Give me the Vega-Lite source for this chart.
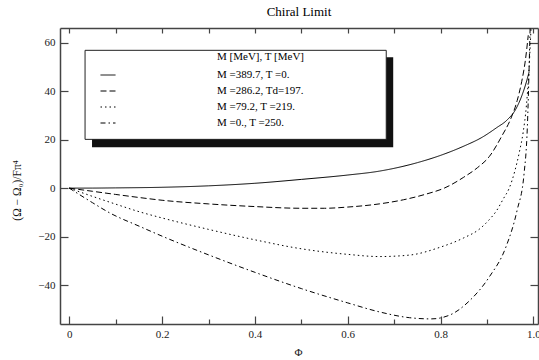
{
  "$schema": "https://vega.github.io/schema/vega-lite/v6.json",
  "autosize": "none",
  "padding": {"left": 60, "top": 28, "right": 1, "bottom": 36},
  "width": 478,
  "height": 296,
  "title": {"text": "Chiral Limit", "fontSize": 13, "font": "Liberation Serif", "fontWeight": "normal", "offset": 8, "color": "#000"},
  "config": {
    "font": "Liberation Serif",
    "view": {"stroke": null},
    "axis": {"grid": false, "labelFont": "Liberation Serif", "titleFont": "Liberation Serif", "labelColor": "#222", "titleColor": "#222", "domainColor": "#444", "domainWidth": 1.5, "tickColor": "#444", "tickWidth": 1.2, "labelFontSize": 11, "titleFontSize": 11, "titleFontWeight": "normal"}
  },
  "datasets": {
    "curves": [
      {"phi": 0, "v": 0, "s": "M =389.7, T =0."},
      {"phi": 0.05, "v": 0.02, "s": "M =389.7, T =0."},
      {"phi": 0.1, "v": 0.1, "s": "M =389.7, T =0."},
      {"phi": 0.2, "v": 0.35, "s": "M =389.7, T =0."},
      {"phi": 0.3, "v": 0.95, "s": "M =389.7, T =0."},
      {"phi": 0.4, "v": 2.0, "s": "M =389.7, T =0."},
      {"phi": 0.5, "v": 3.6, "s": "M =389.7, T =0."},
      {"phi": 0.6, "v": 5.4, "s": "M =389.7, T =0."},
      {"phi": 0.668, "v": 7.0, "s": "M =389.7, T =0."},
      {"phi": 0.75, "v": 10.5, "s": "M =389.7, T =0."},
      {"phi": 0.8, "v": 13.5, "s": "M =389.7, T =0."},
      {"phi": 0.85, "v": 17.3, "s": "M =389.7, T =0."},
      {"phi": 0.89, "v": 21.0, "s": "M =389.7, T =0."},
      {"phi": 0.92, "v": 24.8, "s": "M =389.7, T =0."},
      {"phi": 0.944, "v": 28.2, "s": "M =389.7, T =0."},
      {"phi": 0.962, "v": 32.5, "s": "M =389.7, T =0."},
      {"phi": 0.975, "v": 38.0, "s": "M =389.7, T =0."},
      {"phi": 0.983, "v": 42.5, "s": "M =389.7, T =0."},
      {"phi": 0.991, "v": 48.0, "s": "M =389.7, T =0."},

      {"phi": 0, "v": 0, "s": "M =286.2, Td=197."},
      {"phi": 0.05, "v": -1.3, "s": "M =286.2, Td=197."},
      {"phi": 0.1, "v": -2.6, "s": "M =286.2, Td=197."},
      {"phi": 0.152, "v": -3.9, "s": "M =286.2, Td=197."},
      {"phi": 0.2, "v": -5.0, "s": "M =286.2, Td=197."},
      {"phi": 0.3, "v": -6.5, "s": "M =286.2, Td=197."},
      {"phi": 0.4, "v": -7.6, "s": "M =286.2, Td=197."},
      {"phi": 0.5, "v": -8.3, "s": "M =286.2, Td=197."},
      {"phi": 0.55, "v": -8.3, "s": "M =286.2, Td=197."},
      {"phi": 0.6, "v": -7.8, "s": "M =286.2, Td=197."},
      {"phi": 0.668, "v": -6.5, "s": "M =286.2, Td=197."},
      {"phi": 0.72, "v": -4.8, "s": "M =286.2, Td=197."},
      {"phi": 0.77, "v": -2.4, "s": "M =286.2, Td=197."},
      {"phi": 0.808, "v": 0, "s": "M =286.2, Td=197."},
      {"phi": 0.85, "v": 4.5, "s": "M =286.2, Td=197."},
      {"phi": 0.88, "v": 8.5, "s": "M =286.2, Td=197."},
      {"phi": 0.905, "v": 13.0, "s": "M =286.2, Td=197."},
      {"phi": 0.933, "v": 21.8, "s": "M =286.2, Td=197."},
      {"phi": 0.95, "v": 28.0, "s": "M =286.2, Td=197."},
      {"phi": 0.965, "v": 36.0, "s": "M =286.2, Td=197."},
      {"phi": 0.975, "v": 44.0, "s": "M =286.2, Td=197."},
      {"phi": 0.983, "v": 53.0, "s": "M =286.2, Td=197."},
      {"phi": 0.989, "v": 63.0, "s": "M =286.2, Td=197."},

      {"phi": 0, "v": 0, "s": "M =79.2,  T =219."},
      {"phi": 0.05, "v": -3.4, "s": "M =79.2,  T =219."},
      {"phi": 0.1, "v": -6.6, "s": "M =79.2,  T =219."},
      {"phi": 0.152, "v": -9.8, "s": "M =79.2,  T =219."},
      {"phi": 0.2, "v": -12.3, "s": "M =79.2,  T =219."},
      {"phi": 0.3, "v": -17.0, "s": "M =79.2,  T =219."},
      {"phi": 0.4, "v": -21.3, "s": "M =79.2,  T =219."},
      {"phi": 0.5, "v": -25.0, "s": "M =79.2,  T =219."},
      {"phi": 0.6, "v": -27.3, "s": "M =79.2,  T =219."},
      {"phi": 0.668, "v": -28.2, "s": "M =79.2,  T =219."},
      {"phi": 0.733, "v": -27.6, "s": "M =79.2,  T =219."},
      {"phi": 0.797, "v": -24.5, "s": "M =79.2,  T =219."},
      {"phi": 0.85, "v": -20.5, "s": "M =79.2,  T =219."},
      {"phi": 0.883, "v": -17.0, "s": "M =79.2,  T =219."},
      {"phi": 0.905, "v": -13.0, "s": "M =79.2,  T =219."},
      {"phi": 0.92, "v": -9.5, "s": "M =79.2,  T =219."},
      {"phi": 0.935, "v": -4.5, "s": "M =79.2,  T =219."},
      {"phi": 0.948, "v": 0, "s": "M =79.2,  T =219."},
      {"phi": 0.96, "v": 7.0, "s": "M =79.2,  T =219."},
      {"phi": 0.97, "v": 15.0, "s": "M =79.2,  T =219."},
      {"phi": 0.978, "v": 23.0, "s": "M =79.2,  T =219."},
      {"phi": 0.985, "v": 34.0, "s": "M =79.2,  T =219."},
      {"phi": 0.99, "v": 47.0, "s": "M =79.2,  T =219."},
      {"phi": 0.995, "v": 66.0, "s": "M =79.2,  T =219."},

      {"phi": 0, "v": 0, "s": "M =0.,  T =250."},
      {"phi": 0.05, "v": -6.0, "s": "M =0.,  T =250."},
      {"phi": 0.088, "v": -10.3, "s": "M =0.,  T =250."},
      {"phi": 0.152, "v": -15.8, "s": "M =0.,  T =250."},
      {"phi": 0.2, "v": -19.8, "s": "M =0.,  T =250."},
      {"phi": 0.3, "v": -27.5, "s": "M =0.,  T =250."},
      {"phi": 0.4, "v": -34.7, "s": "M =0.,  T =250."},
      {"phi": 0.5, "v": -41.4, "s": "M =0.,  T =250."},
      {"phi": 0.6, "v": -47.3, "s": "M =0.,  T =250."},
      {"phi": 0.668, "v": -51.0, "s": "M =0.,  T =250."},
      {"phi": 0.733, "v": -53.4, "s": "M =0.,  T =250."},
      {"phi": 0.78, "v": -53.9, "s": "M =0.,  T =250."},
      {"phi": 0.82, "v": -52.3, "s": "M =0.,  T =250."},
      {"phi": 0.862, "v": -46.5, "s": "M =0.,  T =250."},
      {"phi": 0.905, "v": -36.6, "s": "M =0.,  T =250."},
      {"phi": 0.941, "v": -24.2, "s": "M =0.,  T =250."},
      {"phi": 0.965, "v": -9.1, "s": "M =0.,  T =250."},
      {"phi": 0.98, "v": 6.0, "s": "M =0.,  T =250."},
      {"phi": 0.987, "v": 25.0, "s": "M =0.,  T =250."},
      {"phi": 0.993, "v": 66.0, "s": "M =0.,  T =250."}
    ],
    "box": [
      {"kind": "shadow", "x1": 0.049, "x2": 0.698, "y1": 53.9, "y2": 16.8},
      {"kind": "box", "x1": 0.034, "x2": 0.683, "y1": 56.8, "y2": 20.1}
    ]
  },
  "layer": [
    {
      "data": {"name": "box"},
      "transform": [{"filter": "datum.kind === 'shadow'"}],
      "mark": {"type": "rect", "fill": "#111", "stroke": null},
      "encoding": {
        "x": {"field": "x1", "type": "quantitative", "scale": {"domain": [-0.02, 1.01], "nice": false, "zero": false},
              "axis": {"orient": "bottom", "values": [0.1, 0.3, 0.5, 0.7, 0.9], "tickSize": -5, "labels": false, "domain": false, "title": null}},
        "x2": {"field": "x2"},
        "y": {"field": "y1", "type": "quantitative", "scale": {"domain": [-56, 66], "nice": false, "zero": false}, "axis": null},
        "y2": {"field": "y2"}
      }
    },
    {
      "data": {"name": "box"},
      "transform": [{"filter": "datum.kind === 'box'"}],
      "mark": {"type": "rect", "fill": "white", "stroke": "#222", "strokeWidth": 1},
      "encoding": {
        "x": {"field": "x1", "type": "quantitative", "axis": null},
        "x2": {"field": "x2"},
        "y": {"field": "y1", "type": "quantitative", "axis": null},
        "y2": {"field": "y2"}
      }
    },
    {
      "mark": {"type": "rule", "color": "#333", "strokeWidth": 1.2},
      "encoding": {
        "x": {"datum": -0.02, "type": "quantitative",
              "axis": {"orient": "top", "values": [0, 0.1, 0.2, 0.3, 0.4, 0.5, 0.6, 0.7, 0.8, 0.9, 1.0], "tickSize": -5, "labels": false, "title": null}},
        "x2": {"datum": 1.01},
        "y": {"datum": 0, "type": "quantitative",
              "axis": {"orient": "right", "values": [-40, -20, 0, 20, 40, 60], "tickSize": -8, "labels": false, "title": null}}
      }
    },
    {
      "data": {"name": "curves"},
      "mark": {"type": "line", "color": "black", "strokeWidth": 1, "interpolate": "monotone", "clip": true},
      "encoding": {
        "x": {"field": "phi", "type": "quantitative",
              "axis": {"orient": "bottom", "values": [0, 0.2, 0.4, 0.6, 0.8, 1.0], "labelExpr": "datum.value === 0 ? '0' : format(datum.value, '.1f')", "tickSize": -8, "labelPadding": 12, "title": "Φ", "titleX": 238, "titleY": 28, "titleBaseline": "middle"}},
        "y": {"field": "v", "type": "quantitative",
              "axis": {"orient": "left", "values": [-40, -20, 0, 20, 40, 60], "tickSize": -8, "labelPadding": 13, "labelExpr": "replace(datum.label, '-', '−')", "title": "(Ω − Ω₀)/Fπ⁴", "titleX": -38, "titleY": 162, "titleFontStyle": "normal", "titleFontSize": 11.5, "titleColor": "#111"}},
        "strokeDash": {"field": "s", "type": "nominal",
          "scale": {"domain": ["M =389.7, T =0.", "M =286.2, Td=197.", "M =79.2,  T =219.", "M =0.,  T =250."],
                    "range": [[1, 0], [6, 3], [1.5, 3], [5, 3, 1.5, 3]]},
          "legend": {"orient": "none", "legendX": 40, "legendY": 23, "title": "M [MeV], T [MeV]", "titleAnchor": "end", "titleFontSize": 11, "titleFontWeight": "normal", "titleFont": "Liberation Serif", "titleColor": "#000", "titlePadding": 5,
                     "labelFont": "Liberation Serif", "labelFontSize": 11, "labelColor": "#000", "labelOffset": 101, "symbolType": "stroke", "symbolSize": 225, "symbolStrokeWidth": 1, "symbolStrokeColor": "black", "rowPadding": 3, "padding": 0}}
      }
    }
  ],
  "resolve": {"axis": {"x": "independent", "y": "independent"}}
}
